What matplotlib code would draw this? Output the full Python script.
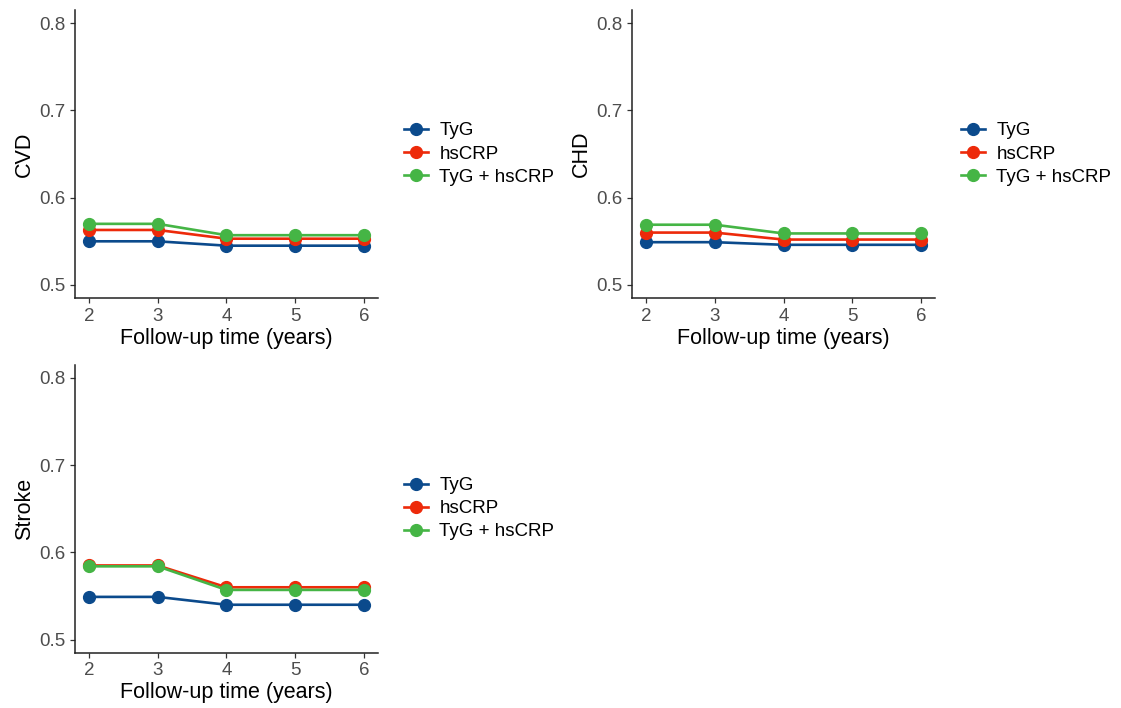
import matplotlib
matplotlib.use("Agg")
import matplotlib.pyplot as plt
from matplotlib.lines import Line2D

plt.rcParams['font.family'] = ['Liberation Sans', 'DejaVu Sans']

years = [2, 3, 4, 5, 6]
series_names = ["TyG", "hsCRP", "TyG + hsCRP"]
colors = ["#0B4A8C", "#ED2A0A", "#45B545"]

cvd_tyg = [0.550, 0.550, 0.545, 0.545, 0.545]
cvd_crp = [0.563, 0.563, 0.553, 0.553, 0.553]
cvd_both = [0.570, 0.570, 0.557, 0.557, 0.557]

chd_tyg = [0.549, 0.549, 0.546, 0.546, 0.546]
chd_crp = [0.560, 0.560, 0.552, 0.552, 0.552]
chd_both = [0.569, 0.569, 0.559, 0.559, 0.559]

stroke_tyg = [0.549, 0.549, 0.540, 0.540, 0.540]
stroke_crp = [0.585, 0.585, 0.560, 0.560, 0.560]
stroke_both = [0.584, 0.584, 0.557, 0.557, 0.557]

panels = [
    ("CVD", [cvd_tyg, cvd_crp, cvd_both], [0.067, 0.579, 0.270, 0.407]),
    ("CHD", [chd_tyg, chd_crp, chd_both], [0.564, 0.579, 0.270, 0.407]),
    ("Stroke", [stroke_tyg, stroke_crp, stroke_both], [0.067, 0.078, 0.270, 0.407]),
]

fig = plt.figure(figsize=(11.21, 7.08), dpi=100)
fig.patch.set_facecolor("white")

for name, data, pos in panels:
    ax = fig.add_axes(pos)
    for vals, c in zip(data, colors):
        ax.plot(years, vals, color=c, lw=1.9, marker="o", ms=8.5, zorder=3)
    ax.set_xlim(1.8, 6.2)
    ax.set_ylim(0.485, 0.815)
    ax.set_xticks(years)
    ax.set_yticks([0.5, 0.6, 0.7, 0.8])
    ax.set_yticklabels(["0.5", "0.6", "0.7", "0.8"])
    for s in ["top", "right"]:
        ax.spines[s].set_visible(False)
    for s in ["left", "bottom"]:
        ax.spines[s].set_linewidth(1.1)
        ax.spines[s].set_color("#222222")
    ax.tick_params(labelsize=13.5, labelcolor="#4d4d4d", color="#333333", length=3.5, width=0.9)
    ax.set_xlabel("Follow-up time (years)", fontsize=15.5, labelpad=2)
    ax.set_ylabel(name, fontsize=15.5, labelpad=3)
    handles = [Line2D([0], [0], color=c, lw=1.9, marker="o", ms=8.5) for c in colors]
    ax.legend(handles, series_names, loc="center left", bbox_to_anchor=(1.03, 0.5),
              frameon=False, fontsize=13.5, handlelength=1.3, handletextpad=0.6,
              labelspacing=0.32)

fig.savefig("out.png", dpi=100, facecolor="white")
